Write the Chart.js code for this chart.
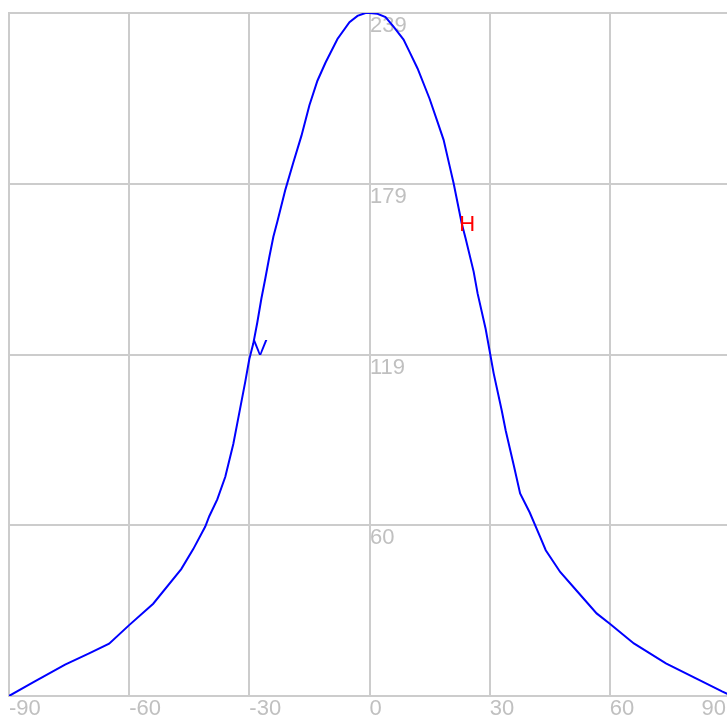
<!DOCTYPE html>
<html>
<head>
<meta charset="utf-8">
<script src="https://cdn.jsdelivr.net/npm/chart.js@4/dist/chart.umd.min.js"></script>
<style>
html, body { margin: 0; padding: 0; overflow: hidden; background: #fff; width: 727px; height: 720px; }
canvas { display: block; }
</style>
</head>
<body>
<canvas id="chart" width="740" height="720"></canvas>
<script>
// pattern: angle (deg) -> level
const angles = [-90, -84, -76, -70, -65, -60, -54, -47, -44, -41, -40, -38, -36, -34, -33, -31, -30, -29, -28, -27,
    -26, -25, -24, -23, -21, -19, -17, -15, -13, -11, -8, -5, -3, -1, 0, 2, 4, 6, 8.5, 10,
    12, 15, 17, 18.5, 20, 21, 23, 24, 26, 27, 29, 30, 31, 33, 34, 36, 37.6, 40, 42.6, 44,
    47.6, 52, 56.7, 60, 66, 74, 82, 88, 90];
const levels = [0, 4.8, 11, 14.9, 18.3, 24.8, 32.3, 44.4, 51.4, 59.3, 62.9, 68.8, 76.7, 88.2, 95.5, 110.1, 117.9, 123.4, 130.8, 139,
    146.2, 153.7, 160.7, 166, 177.2, 186.8, 196, 206.7, 215.3, 221.6, 229.9, 235.8, 238, 239, 239, 238.7, 237.6, 234.2, 229.7, 225.4,
    219.6, 209, 200.8, 194.6, 185.5, 179.4, 165.5, 160.1, 148.5, 140.8, 128.4, 120.7, 112.9, 100, 92.9, 80.8, 70.9, 64.2, 55.7, 51,
    43.4, 36.4, 28.9, 25.3, 18.4, 11.4, 5.8, 1.6, 0.3];

const xTickValues = [-90, -60, -30, 0, 30, 60, 90];
const xTickLabels = ['-90', '-60', '-30', '0', '30', '60', '90'];
const yTickValues = [0, 59.75, 119.5, 179.25, 239];
const yTickLabels = ['', '60', '119', '179', '239'];

// V / H beamwidth markers
const markerLabels = ['V', 'H'];
const markerAngles = [-27.3, 24.4];
const markerLevels = [121.5, 164.8];
const markerColors = ['#0000ff', '#ff0000'];

const gridColor = '#cccccc';
const labelColor = '#c0c0c0';
const labelFont = { family: 'Liberation Sans', size: 22 };

const markerPlugin = {
    id: 'markers',
    afterDatasetsDraw(chart) {
        const ctx = chart.ctx;
        const xs = chart.scales.x;
        const ys = chart.scales.y;
        ctx.save();
        ctx.font = '22px "Liberation Sans"';
        ctx.textAlign = 'center';
        ctx.textBaseline = 'middle';
        for (let i = 0; i < markerLabels.length; i++) {
            ctx.fillStyle = markerColors[i];
            ctx.fillText(markerLabels[i], xs.getPixelForValue(markerAngles[i]), ys.getPixelForValue(markerLevels[i]));
        }
        ctx.restore();
    }
};

const lastX = xTickValues.length - 1;

new Chart(document.getElementById('chart'), {
    type: 'line',
    data: {
        datasets: [{
            data: angles.map((a, i) => ({ x: a, y: levels[i] })),
            borderColor: '#0000ff',
            borderWidth: 2,
            pointRadius: 0,
            tension: 0,
            fill: false
        }]
    },
    options: {
        responsive: false,
        animation: false,
        layout: { padding: { left: 9, top: 13, right: 10, bottom: 0 } },
        plugins: {
            legend: { display: false },
            tooltip: { enabled: false }
        },
        scales: {
            x: {
                type: 'linear',
                position: 'bottom',
                min: -90,
                max: 90,
                afterBuildTicks: s => { s.ticks = xTickValues.map(v => ({ value: v })); },
                afterFit: s => { s.height = 24; s.paddingLeft = 0; s.paddingRight = 0; },
                grid: { color: gridColor, lineWidth: 2, drawTicks: false },
                border: { color: gridColor, width: 2 },
                ticks: {
                    autoSkip: false,
                    maxRotation: 0,
                    align: 'start',
                    padding: 0,
                    color: labelColor,
                    font: labelFont,
                    callback: (v, i) => (i === lastX ? '' : xTickLabels[i])
                }
            },
            x2: {
                type: 'linear',
                axis: 'x',
                position: { y: 0 },
                min: -90,
                max: 90,
                afterBuildTicks: s => { s.ticks = xTickValues.map(v => ({ value: v })); },
                grid: { display: false, drawTicks: false },
                border: { display: false },
                ticks: {
                    autoSkip: false,
                    maxRotation: 0,
                    align: 'end',
                    padding: 0,
                    labelOffset: -4,
                    color: labelColor,
                    font: labelFont,
                    callback: (v, i) => (i === lastX ? xTickLabels[i] : '')
                }
            },
            y: {
                type: 'linear',
                position: 'left',
                min: 0,
                max: 239,
                afterBuildTicks: s => { s.ticks = yTickValues.map(v => ({ value: v })); },
                afterFit: s => { s.width = 0; s.paddingTop = 0; s.paddingBottom = 0; },
                grid: { color: gridColor, lineWidth: 2, drawTicks: false },
                border: { color: gridColor, width: 2 },
                ticks: {
                    mirror: true,
                    crossAlign: 'near',
                    padding: 361,
                    labelOffset: 13,
                    color: labelColor,
                    font: labelFont,
                    callback: (v, i) => yTickLabels[i]
                }
            }
        }
    },
    plugins: [markerPlugin]
});
</script>
</body>
</html>
